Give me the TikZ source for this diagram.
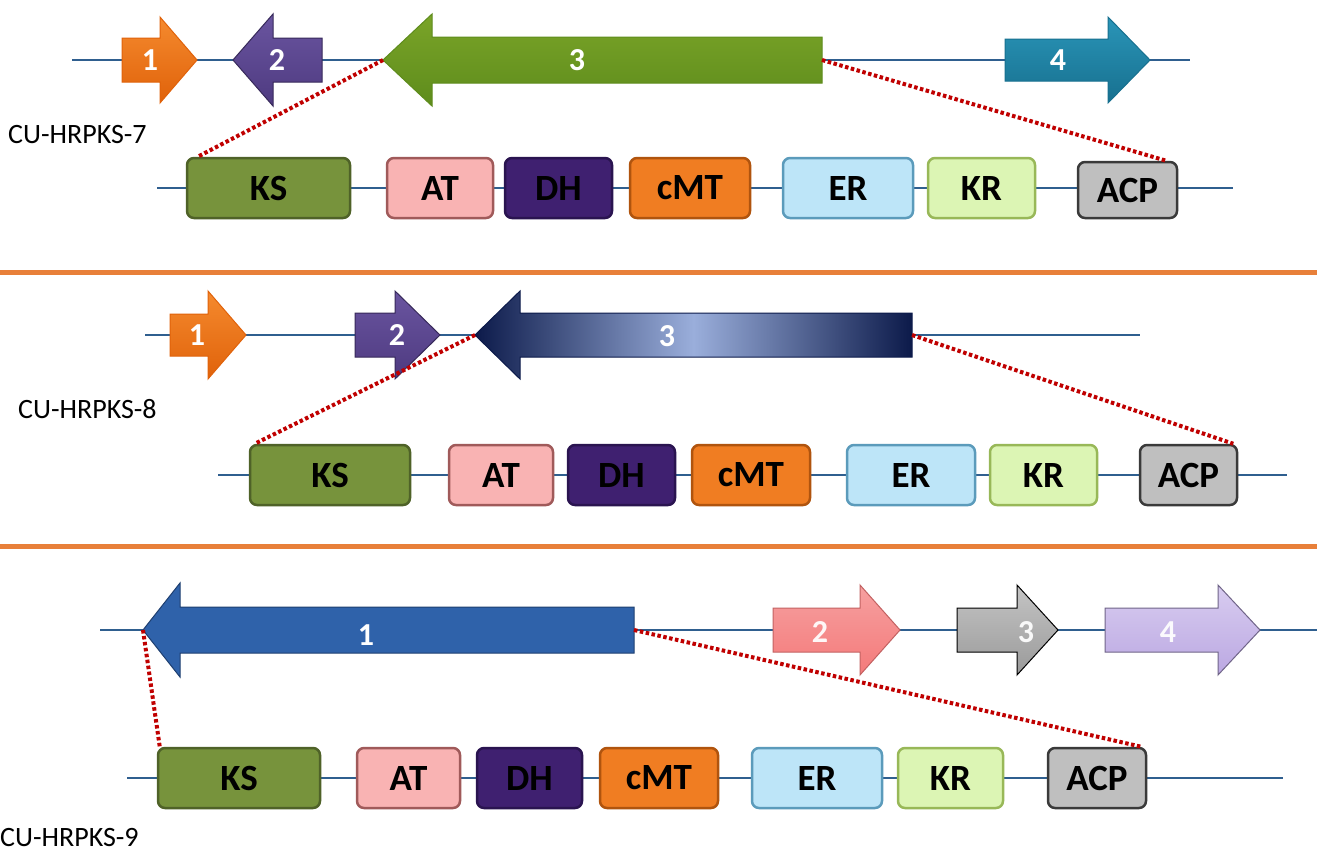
\documentclass[tikz,border=0pt]{standalone}
\usepackage{fontspec}
\setmainfont{Carlito}
\definecolor{lineblue}{HTML}{2F5F8F}
\definecolor{linkred}{HTML}{C00000}
\definecolor{sepor}{HTML}{E8803A}
\definecolor{ksfill}{HTML}{77933C}\definecolor{ksdraw}{HTML}{4F6228}
\definecolor{atfill}{HTML}{F9B3B3}\definecolor{atdraw}{HTML}{A05A5A}
\definecolor{dhfill}{HTML}{3F2070}\definecolor{dhdraw}{HTML}{2A1450}
\definecolor{mtfill}{HTML}{F07D22}\definecolor{mtdraw}{HTML}{B0540E}
\definecolor{erfill}{HTML}{BDE5F8}\definecolor{erdraw}{HTML}{5B9BBB}
\definecolor{krfill}{HTML}{DCF5B4}\definecolor{krdraw}{HTML}{98B858}
\definecolor{acpfill}{HTML}{BFBFBF}\definecolor{acpdraw}{HTML}{3A3A3A}
\definecolor{orA}{HTML}{F58A2E}\definecolor{orB}{HTML}{E0620A}
\definecolor{puA}{HTML}{6A55A0}\definecolor{puB}{HTML}{4E3A80}
\definecolor{grA}{HTML}{7AA428}\definecolor{grB}{HTML}{5E8C1C}
\definecolor{tlA}{HTML}{2A95B8}\definecolor{tlB}{HTML}{17708F}
\definecolor{navy}{HTML}{0C1A4A}\definecolor{paleblue}{HTML}{9AAEDB}
\definecolor{bluA}{HTML}{2F62AA}\definecolor{bluB}{HTML}{1E3F70}
\definecolor{pkA}{HTML}{F6A0A0}\definecolor{pkB}{HTML}{F47A7A}
\definecolor{gyA}{HTML}{C4C4C4}\definecolor{gyB}{HTML}{9A9A9A}
\definecolor{lvA}{HTML}{D8CCF0}\definecolor{lvB}{HTML}{BBA8E2}
% right-pointing gene: style, left x, head base x, tip x, centre y, body half, head half, name
\newcommand{\generight}[8]{%
  \path[#1] (#2,#5-#6) -- (#3,#5-#6) -- (#3,#5-#7) -- (#4,#5) -- (#3,#5+#7)
    -- (#3,#5+#6) -- (#2,#5+#6) -- cycle;
  \coordinate (#8-tip) at (#4,#5);
  \coordinate (#8-end) at (#2,#5);}
% left-pointing gene: style, tip x, head base x, right x, centre y, body half, head half, name
\newcommand{\geneleft}[8]{%
  \path[#1] (#2,#5) -- (#3,#5-#7) -- (#3,#5-#6) -- (#4,#5-#6) -- (#4,#5+#6)
    -- (#3,#5+#6) -- (#3,#5+#7) -- cycle;
  \coordinate (#8-tip) at (#2,#5);
  \coordinate (#8-end) at (#4,#5);}
\begin{document}
\begin{tikzpicture}[x=1pt,y=-1pt,
  backbone/.style={draw=lineblue, line width=2},
  dom/.style={rounded corners=7, line width=2.5, minimum height=60, inner sep=0,
    font=\fontsize{37}{37}\selectfont\bfseries, text=black},
  genelabel/.style={text=white, font=\fontsize{32}{32}\selectfont\bfseries},
  link/.style={draw=linkred, line width=4, dash pattern=on 3.5 off 2.5},
  sep/.style={draw=sepor, line width=5},
  clusterlabel/.style={font=\fontsize{28}{28}\selectfont, anchor=west, inner sep=0}]
\useasboundingbox[fill=white] (0,0) rectangle (1317,855);

% ---------------- CU-HRPKS-7 ----------------
\coordinate (a0) at (72,60); \coordinate (a1) at (1190,60);
\draw[backbone] (a0) -- (a1);
\generight{top color=orA, bottom color=orB, draw=orB, line width=1}{122}{160}{197}{60}{22}{43}{c7g1}
\geneleft{top color=puA, bottom color=puB, draw=puB!70!black, line width=1}{233}{273}{322}{60}{22}{46}{c7g2}
\geneleft{top color=grA, bottom color=grB, draw=grB, line width=1}{383}{432}{822}{60}{23}{46}{c7g3}
\generight{top color=tlA, bottom color=tlB, draw=tlB, line width=1}{1005}{1108}{1150}{60}{21}{43}{c7g4}
\node[genelabel] (c7l1) at (150,60) {1};
\node[genelabel] (c7l2) at (277,60) {2};
\node[genelabel] (c7l3) at (577,60) {3};
\node[genelabel] (c7l4) at (1058,60) {4};
\node[clusterlabel] (c7name) at (8,135) {CU-HRPKS-7};

\coordinate (d0) at (157,188); \coordinate (d1) at (1233,188);
\draw[backbone] (d0) -- (d1);
\node[dom, fill=ksfill, draw=ksdraw, minimum width=163] (c7ks) at (268.5,188) {KS};
\node[dom, fill=atfill, draw=atdraw, minimum width=106] (c7at) at (440,188) {AT};
\node[dom, fill=dhfill, draw=dhdraw, minimum width=107] (c7dh) at (558.5,188) {DH};
\node[dom, fill=mtfill, draw=mtdraw, minimum width=120] (c7mt) at (690,188) {cMT};
\node[dom, fill=erfill, draw=erdraw, minimum width=130] (c7er) at (848,188) {ER};
\node[dom, fill=krfill, draw=krdraw, minimum width=107] (c7kr) at (981.5,188) {KR};
\node[dom, fill=acpfill, draw=acpdraw, minimum width=99, minimum height=56] (c7acp) at (1127.5,190) {ACP};
\draw[link] (c7g3-tip) -- ([xshift=12]c7ks.north west);
\draw[link] (c7g3-end) -- ([xshift=-12]c7acp.north east);

\draw[sep] (0,272) -- (1317,272);

% ---------------- CU-HRPKS-8 ----------------
\coordinate (b0) at (145,335); \coordinate (b1) at (1140,335);
\draw[backbone] (b0) -- (b1);
\generight{top color=orA, bottom color=orB, draw=orB, line width=1}{170}{208}{246}{335}{21}{44}{c8g1}
\generight{top color=puA, bottom color=puB, draw=puB!70!black, line width=1}{355}{395}{440}{335}{22}{44}{c8g2}
\geneleft{left color=navy, right color=navy, middle color=paleblue, draw=navy, line width=1}{475}{520}{912}{335}{22}{44}{c8g3}
\node[genelabel] (c8l1) at (197,335) {1};
\node[genelabel] (c8l2) at (397,335) {2};
\node[genelabel] (c8l3) at (667,336) {3};
\node[clusterlabel] (c8name) at (18,409) {CU-HRPKS-8};

\coordinate (e0) at (218,475); \coordinate (e1) at (1287,475);
\draw[backbone] (e0) -- (e1);
\node[dom, fill=ksfill, draw=ksdraw, minimum width=160] (c8ks) at (330,475) {KS};
\node[dom, fill=atfill, draw=atdraw, minimum width=104] (c8at) at (501,475) {AT};
\node[dom, fill=dhfill, draw=dhdraw, minimum width=107] (c8dh) at (621.5,475) {DH};
\node[dom, fill=mtfill, draw=mtdraw, minimum width=118] (c8mt) at (751,475) {cMT};
\node[dom, fill=erfill, draw=erdraw, minimum width=128] (c8er) at (911,475) {ER};
\node[dom, fill=krfill, draw=krdraw, minimum width=107] (c8kr) at (1043.5,475) {KR};
\node[dom, fill=acpfill, draw=acpdraw, minimum width=97] (c8acp) at (1188.5,475) {ACP};
\draw[link] (c8g3-tip) -- ([xshift=6]c8ks.north west);
\draw[link] (c8g3-end) -- ([xshift=-5]c8acp.north east);

\draw[sep] (0,546) -- (1317,546);

% ---------------- CU-HRPKS-9 ----------------
\coordinate (f0) at (100,630); \coordinate (f1) at (1317,630);
\draw[backbone] (f0) -- (f1);
\geneleft{fill=bluA, draw=bluB, line width=1}{143}{180}{634}{630}{23}{47}{c9g1}
\generight{top color=pkA, bottom color=pkB, draw=pkB!80!black, line width=1}{773}{860}{900}{630}{22}{45}{c9g2}
\generight{top color=gyA, bottom color=gyB, draw=black, line width=1}{957}{1017}{1058}{630}{22}{45}{c9g3}
\generight{top color=lvA, bottom color=lvB, draw=lvB!60!black, line width=1}{1105}{1218}{1260}{630}{22}{45}{c9g4}
\node[genelabel] (c9l1) at (366,635) {1};
\node[genelabel, text=white!92!pkA] (c9l2) at (820,632) {2};
\node[genelabel, text=white!90!gyA] (c9l3) at (1026,632) {3};
\node[genelabel, text=white!90!lvA] (c9l4) at (1168,632) {4};
\node[clusterlabel] (c9name) at (0,838) {CU-HRPKS-9};

\coordinate (g0) at (127,778); \coordinate (g1) at (1283,778);
\draw[backbone] (g0) -- (g1);
\node[dom, fill=ksfill, draw=ksdraw, minimum width=162] (c9ks) at (239,778) {KS};
\node[dom, fill=atfill, draw=atdraw, minimum width=103] (c9at) at (408.5,778) {AT};
\node[dom, fill=dhfill, draw=dhdraw, minimum width=105] (c9dh) at (529.5,778) {DH};
\node[dom, fill=mtfill, draw=mtdraw, minimum width=118] (c9mt) at (659,778) {cMT};
\node[dom, fill=erfill, draw=erdraw, minimum width=130] (c9er) at (817,778) {ER};
\node[dom, fill=krfill, draw=krdraw, minimum width=105] (c9kr) at (950.5,778) {KR};
\node[dom, fill=acpfill, draw=acpdraw, minimum width=98] (c9acp) at (1097,778) {ACP};
\draw[link] (c9g1-tip) -- ([xshift=3]c9ks.north west);
\draw[link] (c9g1-end) -- ([xshift=-6]c9acp.north east);
\end{tikzpicture}
\end{document}
